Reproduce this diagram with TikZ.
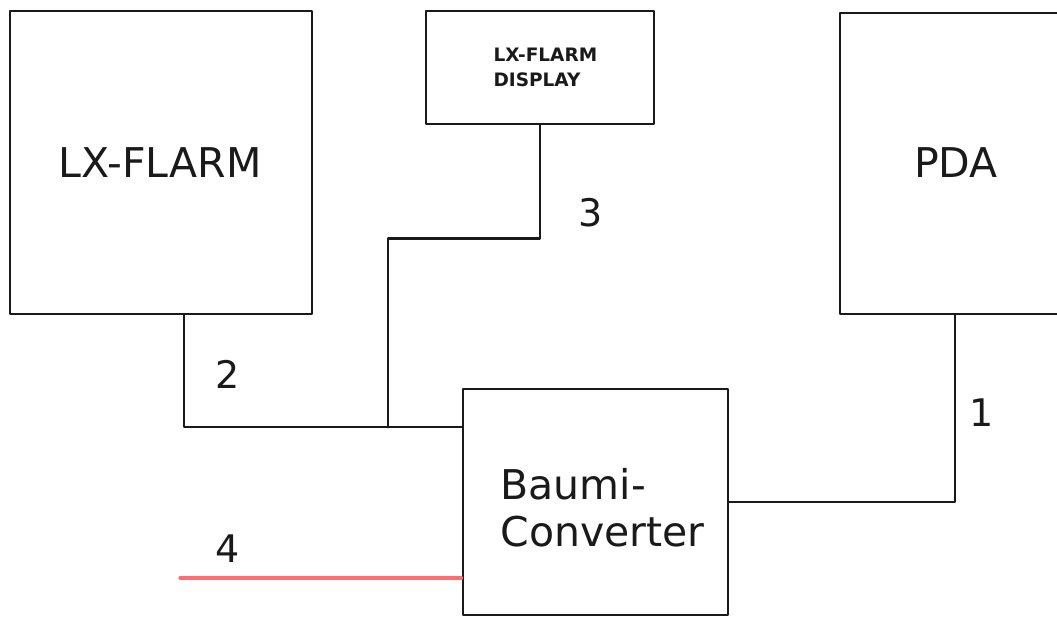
\documentclass[tikz,border=0pt]{standalone}
\usepackage{fontspec}
\setmainfont{DejaVu Sans}
\usetikzlibrary{calc,positioning}
\definecolor{boxInk}{HTML}{1A1A1A}
\definecolor{feedRed}{HTML}{FF6E6E}

\begin{document}
\begin{tikzpicture}[x=1pt,y=-1pt,line cap=round,line join=round]
\path[fill=white] (0,0) rectangle (1057,617);
\useasboundingbox (0,0) rectangle (1057,617);
\tikzset{unit/.style={draw=boxInk,line width=2.8pt,fill=white,inner sep=0pt},wire/.style={draw=boxInk,line width=2.8pt},feedwire/.style={draw=feedRed,line width=3.2pt},bigtext/.style={text=boxInk,font=\fontsize{41}{47}\selectfont},portno/.style={text=boxInk,font=\fontsize{38}{44}\selectfont}}
\begin{scope}
\clip (0,0) rectangle (1057,617);
\node[unit,minimum width=302pt,minimum height=303pt] (flarm) at (161,162.5) {};
\node[unit,minimum width=228pt,minimum height=113pt] (display) at (540,67.5) {};
\node[unit,minimum width=230pt,minimum height=301pt] (pda) at (955,163.5) {};
\node[unit,minimum width=265pt,minimum height=226pt] (baumi) at (595.5,502) {};
\end{scope}
\node[bigtext] (flarmtext) at (160,163) {LX-FLARM};
\node[text=boxInk,font=\fontsize{18.5}{25}\selectfont\bfseries,align=left,anchor=west] (displaytext) at (490,67) {LX-FLARM\\DISPLAY};
\node[bigtext] (pdatext) at (956,163) {PDA};
\node[bigtext,align=left,anchor=west,font=\fontsize{41}{47}\selectfont] (baumitext) at (497,508) {Baumi-\\Converter};
\coordinate (tee) at (388,427);
\coordinate (feed) at (180,578);
\draw[wire] ([xshift=23pt]flarm.south) |- ([yshift=75pt]baumi.west);
\draw[wire] (display.south) -- ++(0,113) -| (tee);
\draw[wire] (baumi.east) -| (pda.south);
\draw[feedwire] (feed) -- (feed -| baumi.west);
\node[portno] (p1) at (982,413) {1};
\node[portno] (p2) at (228,374) {2};
\node[portno] (p3) at (591,213) {3};
\node[portno] (p4) at (228,549) {4};
\end{tikzpicture}
\end{document}
